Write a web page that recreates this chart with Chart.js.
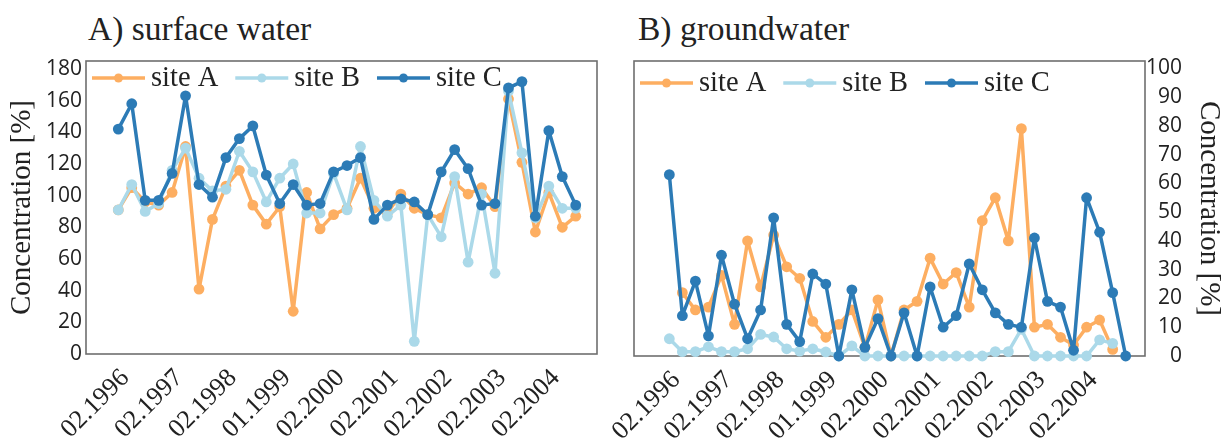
<!DOCTYPE html>
<html>
<head>
<meta charset="utf-8">
<script src="https://cdn.jsdelivr.net/npm/chart.js@4"></script>
<style>
  body { margin: 0; background: #fff; }
  #wrap { position: relative; width: 1226px; height: 440px; }
  #wrap canvas { position: absolute; left: 0; top: 0; }
  .ttl { position: absolute; top: 12px; font: 33.5px/1 "Liberation Serif", serif; color: #222; white-space: nowrap; }
</style>
</head>
<body>
<div id="wrap">
  <div class="ttl" style="left:88px">A) surface water</div>
  <div class="ttl" style="left:638px">B) groundwater</div>
  <canvas id="surface" width="1226" height="440"></canvas>
  <canvas id="ground" width="1226" height="440"></canvas>
</div>
<script>
'use strict'

// sampling dates (quarterly), only some of them are labelled on the x axis
const sampleDates = ['02.1996', '05.1996', '08.1996', '11.1996', '02.1997', '05.1997', '08.1997', '11.1997',
    '02.1998', '05.1998', '08.1998', '11.1998', '01.1999', '05.1999', '08.1999', '11.1999',
    '02.2000', '05.2000', '08.2000', '11.2000', '02.2001', '05.2001', '08.2001', '11.2001',
    '02.2002', '05.2002', '08.2002', '11.2002', '02.2003', '05.2003', '08.2003', '11.2003',
    '02.2004', '05.2004', '08.2004', '11.2004'];
const tickLabels = ['02.1996', '02.1997', '02.1998', '01.1999', '02.2000', '02.2001', '02.2002', '02.2003', '02.2004'];

const sites = ['site A', 'site B', 'site C'];
const siteColors = ['#fdae61', '#abd9e9', '#2c7bb6'];

// A) surface water, 35 samples
const surfaceA = [91, 105, 96, 94, 102, 131, 41, 85, 106, 116, 94, 82, 93, 27, 102, 79, 88, 92, 111, 92,
    89, 101, 92, 88, 86, 108, 101, 105, 93, 161, 121, 77, 102, 80, 87];
const surfaceB = [91, 107, 90, 95, 116, 130, 111, 103, 104, 128, 115, 96, 111, 120, 89, 89, 114, 91, 131, 97,
    87, 94, 8, 88, 74, 112, 58, 101, 51, 166, 127, 86, 106, 92, 92];
const surfaceC = [142, 158, 97, 97, 114, 163, 107, 99, 124, 136, 144, 113, 95, 107, 94, 95, 115, 119, 124, 85,
    94, 98, 96, 88, 115, 129, 117, 94, 95, 168, 172, 87, 141, 112, 94];
const surfaceTicks = [0, 20, 40, 60, 80, 100, 120, 140, 160, 180];

// B) groundwater, 36 samples
const groundA = [null, 22, 16, 17, 28, 11, 40, 24, 42, 31, 27, 12, 6.5, 11, 16, 3, 19.5, 0, 16, 19,
    34, 25, 29, 17, 47, 55, 40, 79, 10, 11, 6.5, 3.8, 10, 12.5, 2.3, null];
const groundB = [6, 1.5, 1.5, 3.2, 1.5, 1.5, 2.5, 7.5, 6.6, 2.5, 1.7, 2.5, 1.4, 0, 3.5, 0, 0, 0, 0, 0,
    0, 0, 0, 0, 0, 1.5, 1.5, 9.3, 0, 0, 0, 0, 0, 5.6, 4.4, null];
const groundC = [63, 14, 26, 7, 35, 18, 6, 16, 48, 11, 5, 28.5, 25, 0, 23, 3, 13, 0, 15, 0,
    24, 10, 14, 32, 23, 15, 11, 10, 41, 19, 17, 2, 55, 43, 22, 0];
const groundTicks = [0, 10, 20, 30, 40, 50, 60, 70, 80, 90, 100];

const TEXT = '#222';

function makeDatasets(series) {
    return series.map((vals, k) => ({
        label: sites[k],
        data: vals.map((v, i) => ({ x: i, y: v })),
        borderColor: siteColors[k],
        backgroundColor: siteColors[k],
        pointBackgroundColor: siteColors[k],
        pointBorderColor: siteColors[k],
        borderWidth: 3.5,
        borderJoinStyle: 'round',
        borderCapStyle: 'round',
        pointRadius: 5.4,
        pointBorderWidth: 0,
        tension: 0,
        clip: false,
        order: 3 - k // site C on top
    }));
}

// box around the plot + legend drawn inside it (like the original figure)
const frameLegend = {
    id: 'frameLegend',
    beforeDatasetsDraw(chart) {
        const { ctx, chartArea: a } = chart;
        ctx.save();
        ctx.strokeStyle = '#6e6e6e';
        ctx.lineWidth = 1.6;
        ctx.strokeRect(a.left, a.top, a.right - a.left, a.bottom - a.top);
        ctx.restore();
    },
    afterDatasetsDraw(chart, args, opts) {
        const { ctx, chartArea: a } = chart;
        ctx.save();
        ctx.font = '28.5px "Liberation Serif"';
        ctx.textBaseline = 'alphabetic';
        let x = a.left + opts.dx;
        const y = a.top + opts.dy;
        chart.data.datasets.forEach(ds => {
            ctx.strokeStyle = ds.borderColor;
            ctx.lineWidth = 3.5;
            ctx.beginPath();
            ctx.moveTo(x, y);
            ctx.lineTo(x + 53, y);
            ctx.stroke();
            ctx.fillStyle = ds.borderColor;
            ctx.beginPath();
            ctx.arc(x + 26.5, y, 4.5, 0, Math.PI * 2);
            ctx.fill();
            x += 59;
            ctx.fillStyle = TEXT;
            ctx.fillText(ds.label, x, y + 8);
            x += ctx.measureText(ds.label).width + 17;
        });
        ctx.restore();
    }
};

function xScale(min, max, height) {
    return {
        type: 'linear',
        min: min,
        max: max,
        grid: { display: false },
        border: { display: false },
        afterBuildTicks: (scale) => {
            scale.ticks = sampleDates
                .map((d, i) => (tickLabels.includes(d) ? { value: i } : null))
                .filter(Boolean);
        },
        afterFit: (scale) => { scale.height = height; },
        ticks: {
            autoSkip: false,
            minRotation: 45,
            maxRotation: 45,
            padding: 1,
            labelOffset: 7,
            color: TEXT,
            font: { family: 'Liberation Serif', size: 26 },
            callback: (v) => sampleDates[v]
        }
    };
}

function yScale(pos, max, tickList, width, titlePad) {
    return {
        position: pos,
        min: 0,
        max: max,
        grid: { display: false, drawTicks: false },
        border: { display: false },
        afterBuildTicks: (scale) => { scale.ticks = tickList.map(v => ({ value: v })); },
        afterFit: (scale) => { scale.width = width; },
        ticks: {
            padding: 4,
            crossAlign: pos === 'left' ? 'near' : 'far',
            color: TEXT,
            font: { family: 'Open Sans', size: 21 }
        },
        title: {
            display: true,
            text: 'Concentration [%]',
            color: TEXT,
            padding: { top: titlePad, bottom: 0 },
            font: { family: 'Liberation Serif', size: 29, lineHeight: 1.2 }
        }
    };
}

const commonPlugins = {
    legend: { display: false },
    tooltip: { enabled: false },
    title: { display: false }
};

const surfaceChart = new Chart(document.getElementById('surface'), {
    type: 'line',
    data: { datasets: makeDatasets([surfaceA, surfaceB, surfaceC]) },
    options: {
        responsive: false,
        animation: false,
        layout: { padding: { left: 0, top: 61, right: 629, bottom: 0 } },
        scales: {
            x: xScale(-2.4, 35.58, 86),
            y: yScale('left', 185, surfaceTicks, 86, 5)
        },
        plugins: Object.assign({}, commonPlugins, { frameLegend: { dx: 6, dy: 17 } })
    },
    plugins: [frameLegend]
});

// right axis: labels right-aligned at x=1182, title pushed out to x~1209
const groundChart = new Chart(document.getElementById('ground'), {
    type: 'line',
    data: { datasets: makeDatasets([groundA, groundB, groundC]) },
    options: {
        responsive: false,
        animation: false,
        layout: { padding: { left: 634, top: 61, right: 44, bottom: 0 } },
        scales: {
            x: xScale(-2.71, 36.48, 84),
            y: yScale('right', 102.5, groundTicks, 37, -44.4)
        },
        plugins: Object.assign({}, commonPlugins, { frameLegend: { dx: 6, dy: 22 } })
    },
    plugins: [frameLegend]
});
</script>
</body>
</html>
